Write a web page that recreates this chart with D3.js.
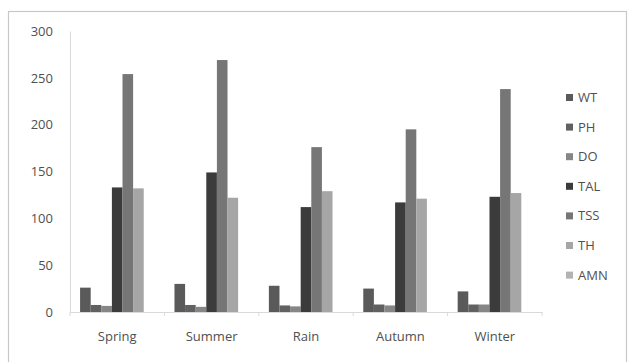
<!DOCTYPE html>
<html>
<head>
<meta charset="utf-8">
<script src="https://cdn.jsdelivr.net/npm/d3@7"></script>
<style>
  html, body { margin: 0; padding: 0; background: #fff; }
  svg { display: block; }
  text { font-family: "Open Sans", "Noto Sans", sans-serif; fill: #505050; }
</style>
</head>
<body>
<svg id="chart" width="629" height="362"></svg>
<script>
const categories = ["Spring", "Summer", "Rain", "Autumn", "Winter"];
const seriesNames = ["WT", "PH", "DO", "TAL", "TSS", "TH", "AMN"];
const WT  = [26, 30, 28, 25, 22];
const PH  = [7.5, 7.5, 7, 8, 8];
const DO  = [6.5, 5.5, 6, 7, 8];
const TAL = [133, 149, 112, 117, 123];
const TSS = [254, 269, 176, 195, 238];
const TH  = [132, 122, 129, 121, 127];
const AMN = [0, 0, 0, 0, 0];
const yTicks = [0, 50, 100, 150, 200, 250, 300];
const colors = ["#5a5a5a", "#616161", "#868686", "#3b3b3b", "#767676", "#a6a6a6", "#b3b3b3"];

const seriesValues = [WT, PH, DO, TAL, TSS, TH, AMN];

const svg = d3.select("#chart");

// outer frame
svg.append("rect").attr("x", 8.5).attr("y", 11.5).attr("width", 618).attr("height", 360)
  .attr("fill", "none").attr("stroke", "#c8c8c8").attr("stroke-width", 1.2);

const plot = { left: 70, right: 542, top: 31, bottom: 312 };

const x0 = d3.scaleBand().domain(categories).range([plot.left, plot.right]).paddingInner(0).paddingOuter(0);
const x1 = d3.scaleBand().domain(seriesNames).range([0, x0.bandwidth()]).paddingInner(0).paddingOuter(0.95);
const y = d3.scaleLinear().domain([0, 300]).range([plot.bottom, plot.top]);
const color = d3.scaleOrdinal().domain(seriesNames).range(colors);

// y axis
const yAxis = d3.axisLeft(y).tickValues(yTicks).tickSize(0).tickPadding(17);
const gy = svg.append("g").attr("transform", `translate(${plot.left},0)`).call(yAxis);
gy.select(".domain").attr("stroke", "#d9d9d9");
gy.selectAll("text").attr("font-size", 13).style("fill", "#505050");

// bars
const groups = svg.append("g").selectAll("g").data(categories).join("g")
  .attr("transform", d => `translate(${x0(d)},0)`);
groups.selectAll("rect")
  .data((c, ci) => seriesNames.map((s, si) => ({ s, v: seriesValues[si][ci] })))
  .join("rect")
  .attr("x", d => x1(d.s))
  .attr("width", x1.bandwidth())
  .attr("y", d => y(d.v))
  .attr("height", d => y(0) - y(d.v))
  .attr("fill", d => color(d.s));

// x axis
const xAxis = d3.axisBottom(x0).tickSize(0).tickPadding(20);
const gx = svg.append("g").attr("transform", `translate(0,${plot.bottom})`).call(xAxis);
gx.select(".domain").attr("stroke", "#d9d9d9");
gx.selectAll("text").attr("font-size", 13).style("fill", "#505050");
// category boundary tick marks
gx.selectAll(".bound").data(d3.range(categories.length + 1)).join("line")
  .attr("class", "bound")
  .attr("x1", i => plot.left + i * x0.step()).attr("x2", i => plot.left + i * x0.step())
  .attr("y1", 0).attr("y2", 4).attr("stroke", "#d9d9d9");

// legend
const legend = svg.append("g").selectAll("g").data(seriesNames).join("g")
  .attr("transform", (d, i) => `translate(566,${97.5 + i * 29.6})`);
legend.append("rect").attr("x", 0).attr("y", -3.5).attr("width", 7).attr("height", 7)
  .attr("fill", d => color(d));
legend.append("text").attr("x", 12).attr("y", 0).attr("dy", "0.35em")
  .attr("font-size", 13).text(d => d);
</script>
</body>
</html>
